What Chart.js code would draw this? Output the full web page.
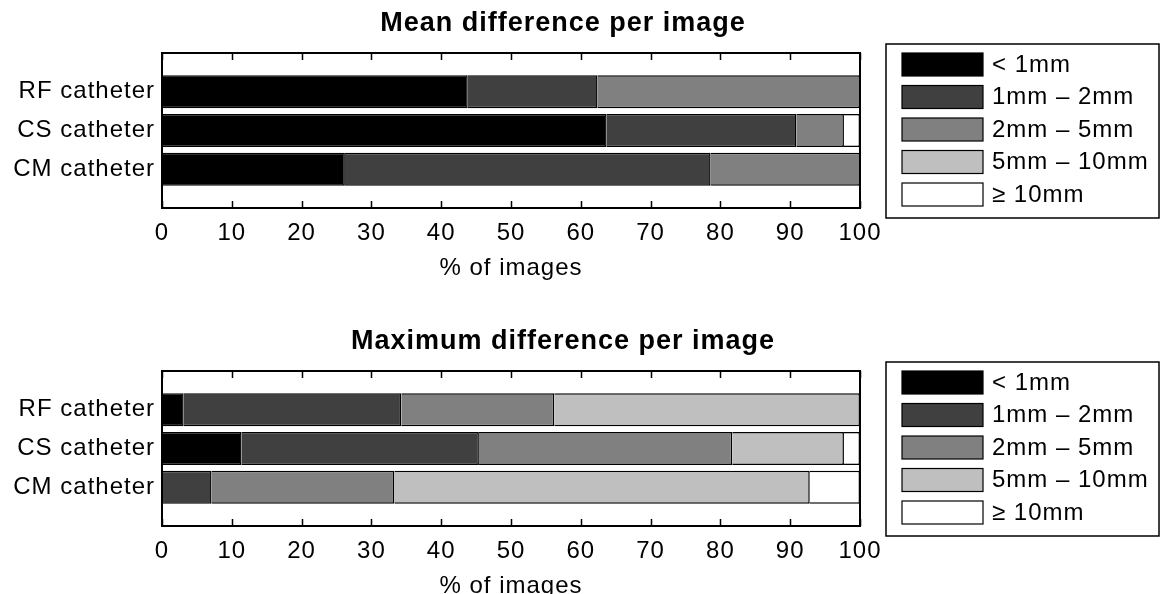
<!DOCTYPE html>
<html>
<head>
<meta charset="utf-8">
<script src="https://cdn.jsdelivr.net/npm/chart.js@4.4.1/dist/chart.umd.min.js"></script>
<style>
  html, body { margin: 0; padding: 0; background: #fff; overflow: hidden; width: 1161px; height: 594px; }
  .panel { position: absolute; left: 0; width: 1161px; height: 297px; }
  #p1 { top: 0; }
  #p2 { top: 318px; }
</style>
</head>
<body>
<div class="panel" id="p1"><canvas id="c1" width="1161" height="297"></canvas></div>
<div class="panel" id="p2"><canvas id="c2" width="1161" height="297"></canvas></div>
<script>
// Catheter types (rows) and distance bins (stacked segments)
const categories = ['RF catheter', 'CS catheter', 'CM catheter'];
const bins = ['< 1mm', '1mm – 2mm', '2mm – 5mm', '5mm – 10mm', '≥ 10mm'];
const binColors = ['#000000', '#404040', '#808080', '#bfbfbf', '#ffffff'];
const xTickStep = 10;

// Mean difference per image: % of images in each bin (RF, CS, CM)
const meanLt1   = [43.8, 63.7, 26.2];
const mean1to2  = [18.6, 27.2, 52.4];
const mean2to5  = [37.6, 6.8, 21.4];
const mean5to10 = [0, 0, 0];
const meanGe10  = [0, 2.3, 0];

// Maximum difference per image: % of images in each bin (RF, CS, CM)
const maxLt1   = [3.1, 11.4, 0];
const max1to2  = [31.2, 34.0, 7.1];
const max2to5  = [21.9, 36.3, 26.2];
const max5to10 = [43.8, 16.0, 59.5];
const maxGe10  = [0, 2.3, 7.2];

const FONT = '"Liberation Sans", Arial, Helvetica, sans-serif';
Chart.defaults.font.family = FONT;
Chart.defaults.color = '#000';

// Empty slots above and below the three rows leave the same margin as a 0..4 axis
const rowLabels = ['', ...categories, ''];
const padRow = vals => [null, ...vals, null];

// Axes frame with inward tick marks on top and bottom edges
const framePlugin = {
  id: 'frame',
  afterDatasetsDraw(chart) {
    const { ctx, chartArea: a, scales: { x } } = chart;
    ctx.save();
    ctx.strokeStyle = '#000';
    ctx.lineWidth = 1.5;
    ctx.beginPath();
    x.ticks.forEach(t => {
      const px = Math.round(x.getPixelForValue(t.value)) + 0.5;
      ctx.moveTo(px, a.bottom); ctx.lineTo(px, a.bottom - 7);
      ctx.moveTo(px, a.top); ctx.lineTo(px, a.top + 7);
    });
    ctx.stroke();
    ctx.lineWidth = 2;
    ctx.strokeRect(a.left, a.top, a.right - a.left, a.bottom - a.top);
    ctx.restore();
  }
};

// Boxed legend to the right of the axes
const binLegendPlugin = {
  id: 'binLegend',
  afterDraw(chart) {
    const { ctx, chartArea: a } = chart;
    const left = a.right + 26, top = a.top - 9, h = 174;
    ctx.save();
    ctx.letterSpacing = '1px';
    ctx.font = '24px ' + FONT;
    const items = chart.data.datasets;
    let maxW = 0;
    items.forEach(d => { maxW = Math.max(maxW, ctx.measureText(d.label).width); });
    const w = Math.min(106 + maxW + 12, chart.width - left - 2);
    ctx.lineWidth = 1.5;
    ctx.strokeStyle = '#000';
    ctx.strokeRect(left, top, w, h);
    items.forEach((d, i) => {
      const y = top + 9 + i * 32.5;
      ctx.fillStyle = d.backgroundColor;
      ctx.fillRect(left + 16, y, 81, 23);
      ctx.lineWidth = 1.2;
      ctx.strokeRect(left + 16, y, 81, 23);
      ctx.fillStyle = '#000';
      ctx.textBaseline = 'middle';
      ctx.textAlign = 'left';
      ctx.fillText(d.label, left + 106, y + 12);
    });
    ctx.restore();
  }
};

// Title centred over the axes together with the legend
const titleShiftPlugin = {
  id: 'titleShift',
  afterLayout(chart) {
    const t = chart.titleBlock;
    if (t) { t.left = 0; t.right = 1126; }
  },
  beforeDraw(chart) {
    chart.ctx.letterSpacing = '1px';
  }
};

function makeChart(canvasId, titleText, series) {
  const datasets = series.map((vals, i) => ({
    label: bins[i],
    data: padRow(vals),
    backgroundColor: binColors[i],
    borderColor: '#000',
    borderWidth: 1.5,
    borderSkipped: 'start',
    categoryPercentage: 1,
    barPercentage: 0.85
  }));
  return new Chart(document.getElementById(canvasId), {
    type: 'bar',
    data: { labels: rowLabels, datasets },
    plugins: [titleShiftPlugin, framePlugin, binLegendPlugin],
    options: {
      indexAxis: 'y',
      responsive: false,
      animation: false,
      devicePixelRatio: 1,
      layout: { padding: { left: 0, right: 301, top: 0, bottom: 0 } },
      plugins: {
        legend: { display: false },
        tooltip: { enabled: false },
        title: {
          display: true,
          text: titleText,
          color: '#000',
          font: { family: FONT, size: 27, weight: 'bold' },
          padding: { top: 7, bottom: 13.6 }
        }
      },
      scales: {
        x: {
          type: 'linear',
          stacked: true,
          min: 0,
          max: 100,
          ticks: { stepSize: xTickStep, color: '#000', font: { size: 24 }, padding: 11, maxRotation: 0, autoSkip: false },
          grid: { display: false, drawTicks: false },
          border: { display: false },
          title: { display: true, text: '% of images', color: '#000', font: { size: 24 }, padding: { top: 0, bottom: 14 } },
          afterFit(s) { s.height = 89; }
        },
        y: {
          type: 'category',
          stacked: true,
          offset: false,
          ticks: { color: '#000', font: { size: 24 }, padding: 7, autoSkip: false },
          grid: { display: false, drawTicks: false },
          border: { display: false },
          afterFit(s) { s.width = 162; }
        }
      }
    }
  });
}

makeChart('c1', 'Mean difference per image', [meanLt1, mean1to2, mean2to5, mean5to10, meanGe10]);
makeChart('c2', 'Maximum difference per image', [maxLt1, max1to2, max2to5, max5to10, maxGe10]);
</script>
</body>
</html>
